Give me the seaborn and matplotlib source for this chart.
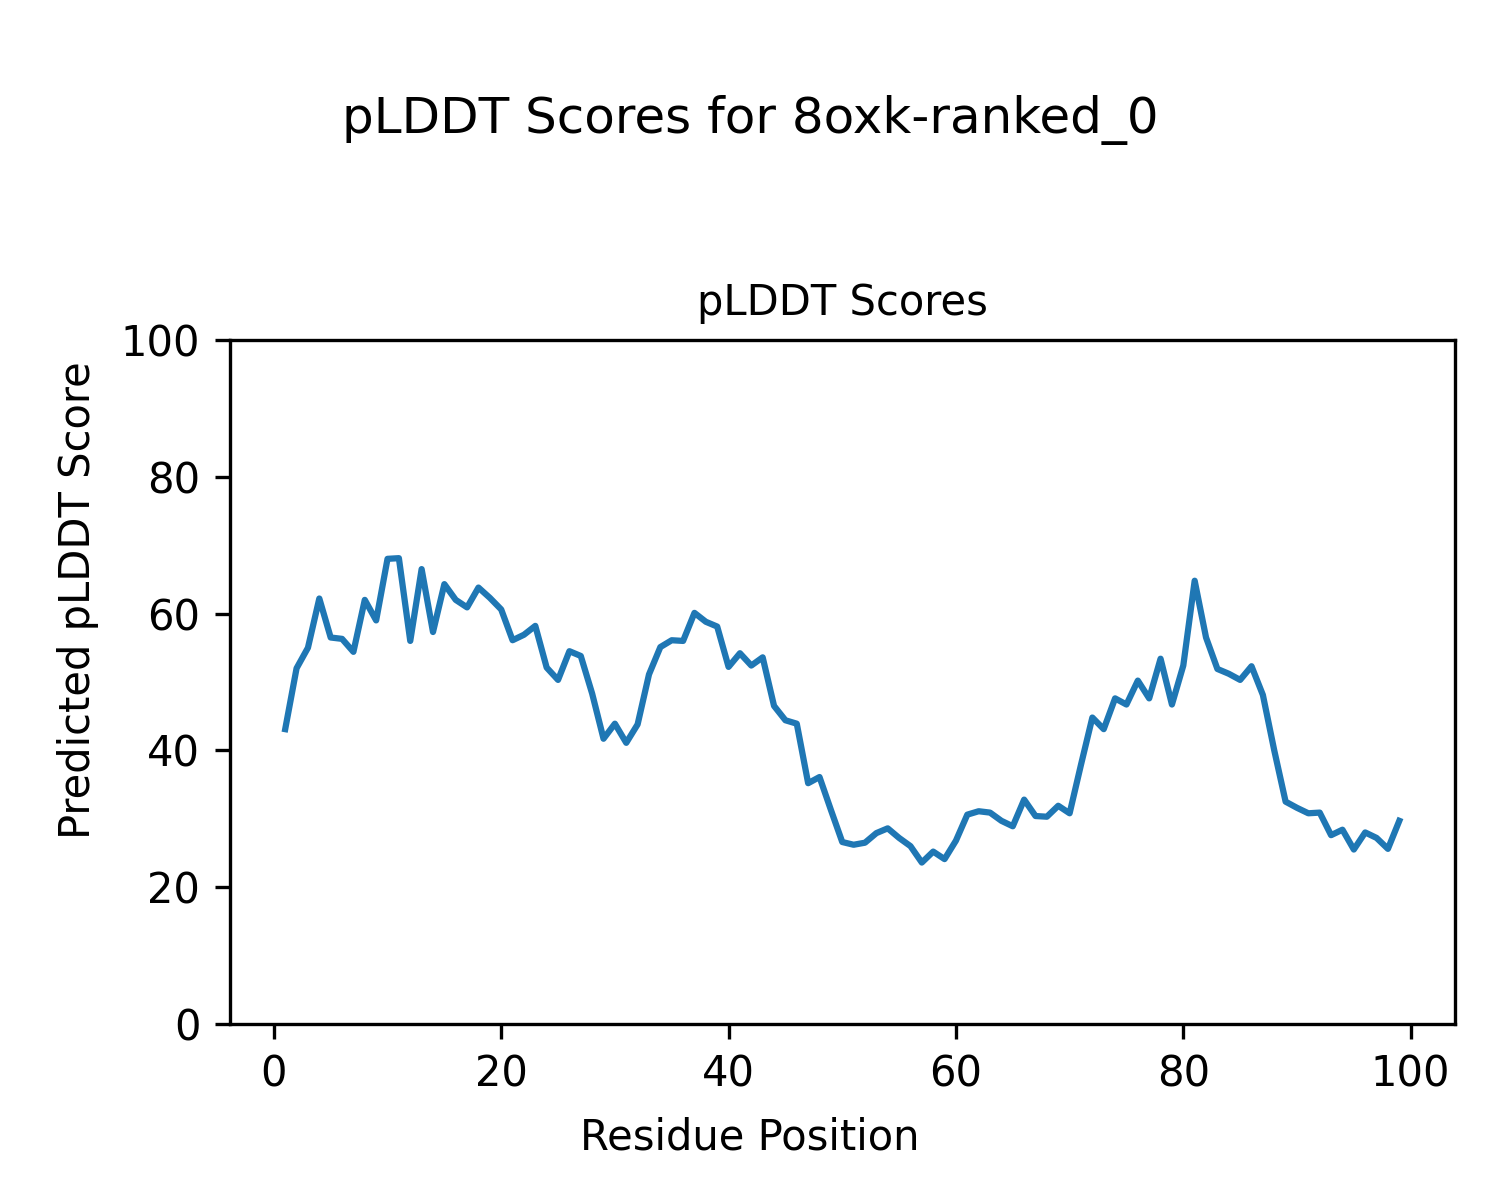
import numpy as np
import pandas as pd
import matplotlib
matplotlib.use("Agg")
import matplotlib.pyplot as plt
import seaborn as sns

positions = list(range(1, 100))
plddt = [43.1, 52.0, 55.0, 62.2, 56.5, 56.3, 54.4, 62.0, 59.0, 68.0,
         68.1, 56.0, 66.5, 57.3, 64.3, 62.0, 60.9, 63.8, 62.3, 60.6,
         56.1, 56.9, 58.2, 52.1, 50.3, 54.5, 53.8, 48.3, 41.7, 43.9,
         41.1, 43.8, 51.1, 55.1, 56.1, 56.0, 60.1, 58.8, 58.1, 52.2,
         54.2, 52.4, 53.6, 46.5, 44.4, 43.9, 35.2, 36.1, 31.3, 26.6,
         26.2, 26.5, 27.9, 28.6, 27.2, 26.0, 23.6, 25.2, 24.1, 26.8,
         30.6, 31.1, 30.9, 29.7, 28.9, 32.8, 30.4, 30.3, 31.9, 30.8,
         37.9, 44.8, 43.1, 47.6, 46.7, 50.2, 47.6, 53.4, 46.7, 52.4,
         64.8, 56.5, 51.9, 51.2, 50.3, 52.3, 48.1, 40.0, 32.5, 31.6,
         30.8, 30.9, 27.6, 28.4, 25.5, 28.0, 27.2, 25.6, 29.7]

df = pd.DataFrame({"pos": positions, "score": plddt})

fig = plt.figure(figsize=(5, 4), dpi=300)
ax = fig.add_axes([0.153, 0.1467, 0.817, 0.57])
sns.lineplot(data=df, x="pos", y="score", ax=ax, color="#1f77b4", linewidth=1.5)

ax.set_ylim(0, 100)
ax.set_title("pLDDT Scores", fontsize=10)
ax.set_xlabel("")
ax.set_ylabel("")
fig.supxlabel("Residue Position", fontsize=10, y=0.035)
fig.supylabel("Predicted pLDDT Score", fontsize=10, x=0.038)
fig.suptitle("pLDDT Scores for 8oxk-ranked_0", fontsize=12, y=0.921)

fig.savefig("out.png", dpi=300)
